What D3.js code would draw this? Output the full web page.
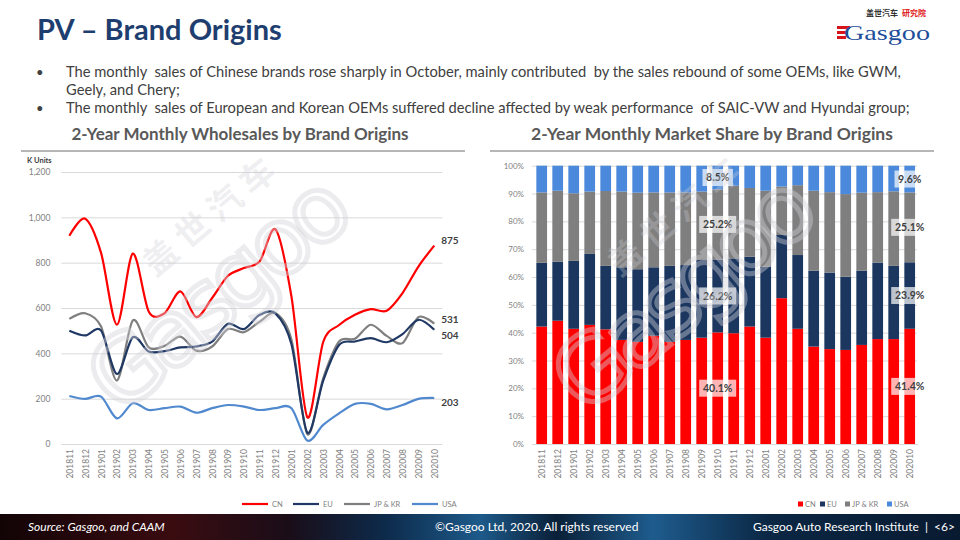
<!DOCTYPE html>
<html><head><meta charset="utf-8">
<script src="https://cdn.jsdelivr.net/npm/d3@7"></script>
<style>
html,body{margin:0;padding:0;background:#fff;}
svg{display:block;font-family:Lato,"Open Sans",sans-serif;}
</style></head>
<body><svg id="c" width="960" height="540"></svg>
<script>
// ---------- data ----------
const months = ["201811","201812","201901","201902","201903","201904","201905","201906","201907","201908","201909","201910","201911","201912","202001","202002","202003","202004","202005","202006","202007","202008","202009","202010"];
const seriesNames = ["CN","EU","JP & KR","USA"];
const cnSales  = [919,994,843,526,840,585,577,673,560,644,742,776,806,946,650,118,450,525,570,595,588,666,783,875];
const euSales  = [500,479,500,309,471,408,410,426,430,452,530,507,570,575,440,50,280,437,452,467,449,485,548,504];
const jpSales  = [552,577,518,280,545,426,433,474,412,430,507,493,540,577,460,44,290,452,464,526,477,445,560,531];
const usaSales = [212,199,209,113,180,150,158,165,138,158,172,165,150,158,158,15,84,135,177,177,153,172,199,203];
const salesTicks = [0,200,400,600,800,1000,1200];

const cnShare  = [42.2,44.3,41.4,42.8,41.2,37.4,36.7,38.9,36.7,37.4,38.2,40.1,39.8,42.2,38.2,52.4,41.4,35.0,34.1,33.8,35.6,37.7,37.7,41.4];
const euShare  = [22.9,21.2,24.4,25.5,22.8,26.1,26.1,24.6,27.3,26.9,27.9,26.2,26.9,25.1,25.5,22.7,26.5,27.3,27.5,26.3,26.7,27.5,26.3,23.9];
const jpShare  = [25.3,25.5,24.3,22.4,26.9,27.2,27.5,26.9,26.4,26.1,24.6,25.2,26.1,24.7,27.3,17.4,25.1,28.7,28.9,29.7,28.0,25.3,26.8,25.1];
const usaShare = [9.6,9.0,9.9,9.3,9.1,9.3,9.7,9.6,9.6,9.6,9.3,8.5,7.2,8.0,9.0,7.5,7.0,9.0,9.5,10.2,9.7,9.5,9.2,9.6];
const shareTicks = [0,10,20,30,40,50,60,70,80,90,100];
const labeledMonths = ["201910","202010"];

const bullets = [
  ["The monthly  sales of Chinese brands rose sharply in October, mainly contributed  by the sales rebound of some OEMs, like GWM,","Geely, and Chery;"],
  ["The monthly  sales of European and Korean OEMs suffered decline affected by weak performance  of SAIC-VW and Hyundai group;"]
];

// ---------- styles ----------
const lineColors = {"CN":"#FF0000","EU":"#1F3864","JP & KR":"#7F7F7F","USA":"#5189CF"};
const barColors  = {"CN":"#FF0000","EU":"#1B365F","JP & KR":"#7F7F7F","USA":"#4A89DC"};
const axisGray = "#7F7F7F";

const svg = d3.select("#c");

// ---------- header ----------
svg.append("text").attr("x",37).attr("y",40).attr("font-size",29).attr("font-weight",700)
  .attr("fill","#1F3E70").text("PV – Brand Origins");

// logo
const logo = svg.append("g").attr("transform","translate(836,8)");
logo.append("text").attr("x",30).attr("y",8).attr("font-size",8).attr("font-weight",700)
  .attr("font-family","'Noto Sans CJK SC'").attr("fill","#333").text("盖世汽车");
logo.append("text").attr("x",66).attr("y",8).attr("font-size",8).attr("font-weight",700)
  .attr("font-family","'Noto Sans CJK SC'").attr("fill","#E02020").text("研究院");
[0,1,2].forEach(i=>logo.append("rect").attr("x",1).attr("y",18+i*5).attr("width",13-i*2).attr("height",3).attr("fill","#D7141A"));
logo.append("text").attr("x",8).attr("y",32).attr("font-size",21).attr("font-family","'Liberation Serif',serif")
  .attr("fill","#1F4E9A").attr("textLength",86).attr("lengthAdjust","spacingAndGlyphs").text("Gasgoo");

// bullets
let by = 77;
bullets.forEach(b=>{
  svg.append("text").attr("x",36).attr("y",by).attr("font-size",13).attr("fill","#404040").text("•");
  b.forEach((ln,k)=>{
    svg.append("text").attr("x",66).attr("y",by).attr("font-size",14.7).attr("fill","#404040")
      .attr("xml:space","preserve").style("white-space","pre").text(ln);
    by += 18;
  });
});

// chart titles + top rules
svg.append("text").attr("x",240).attr("y",140).attr("text-anchor","middle").attr("font-size",17).attr("font-weight",700)
  .attr("fill","#595959").text("2-Year Monthly Wholesales by Brand Origins");
svg.append("text").attr("x",712).attr("y",140).attr("text-anchor","middle").attr("font-size",17.5).attr("font-weight",700)
  .attr("fill","#595959").text("2-Year Monthly Market Share by Brand Origins");
svg.append("line").attr("x1",21).attr("x2",465).attr("y1",151).attr("y2",151).attr("stroke","#6F6F6F").attr("stroke-width",1.2);
svg.append("line").attr("x1",490).attr("x2",934).attr("y1",151).attr("y2",151).attr("stroke","#6F6F6F").attr("stroke-width",1.2);

// ---------- left line chart ----------
const xL = d3.scalePoint().domain(months).range([61.4,442.2]).padding(0.5);
const yL = d3.scaleLinear().domain([0,1200]).range([444,172]);
const gL = svg.append("g");
gL.append("text").attr("x",27).attr("y",163).attr("font-size",7.5).attr("font-weight",700).attr("fill","#404040").text("K Units");
const axL = d3.axisLeft(yL).tickValues(salesTicks).tickSize(-381).tickFormat(d3.format(","));
const gax = gL.append("g").attr("transform","translate(61.4,0)").call(axL);
gax.select(".domain").remove();
gax.selectAll(".tick line").attr("stroke","#D9D9D9");
gax.selectAll(".tick text").attr("x",-11).attr("font-size",8.5).attr("fill",axisGray).attr("font-family","Lato");
const axLx = d3.axisBottom(xL).tickSize(0);
const gxx = gL.append("g").attr("transform","translate(0,444)").call(axLx);
gxx.select(".domain").remove();
gxx.selectAll(".tick text").attr("transform","rotate(-90)").attr("text-anchor","end")
  .attr("x",-5).attr("y",0).attr("dy","0.35em").attr("font-size",8.5).attr("fill",axisGray).attr("font-family","Lato");

const salesData = [cnSales,euSales,jpSales,usaSales];
const drawOrder = [3,2,1,0];
const lineGen = d3.line().x((d,i)=>xL(months[i])).y(d=>yL(d)).curve(d3.curveCardinal.tension(0.1));
drawOrder.forEach(s=>{
  gL.append("path").datum(salesData[s]).attr("d",lineGen).attr("fill","none")
    .attr("stroke",lineColors[seriesNames[s]]).attr("stroke-width",2.2).attr("stroke-linejoin","round");
});
const endOffsets = [-5,6,-4,5];
salesData.forEach((arr,s)=>{
  const v = arr[arr.length-1];
  gL.append("text").attr("x",xL(months[months.length-1])+7).attr("y",yL(v)+endOffsets[s]).attr("dy","0.35em")
    .attr("font-size",10).attr("font-weight",700).attr("fill","#404040").text(v);
});
// legend
const legLx = [242,293,344,412];
seriesNames.forEach((n,s)=>{
  gL.append("line").attr("x1",legLx[s]).attr("x2",legLx[s]+26).attr("y1",504).attr("y2",504)
    .attr("stroke",lineColors[n]).attr("stroke-width",2.2);
  gL.append("text").attr("x",legLx[s]+30).attr("y",504).attr("dy","0.35em").attr("font-size",7.5)
    .attr("fill",axisGray).text(n);
});

// ---------- right stacked bar chart ----------
const xR = d3.scaleBand().domain(months).range([533.7,917.7]).paddingInner(0.33).paddingOuter(0.165);
const yR = d3.scaleLinear().domain([0,100]).range([444,165.7]);
const gR = svg.append("g");
const axR = d3.axisLeft(yR).tickValues(shareTicks).tickSize(-385).tickFormat(d=>d+"%");
const gay = gR.append("g").attr("transform","translate(532,0)").call(axR);
gay.select(".domain").remove();
gay.selectAll(".tick line").attr("stroke","#D9D9D9");
gay.selectAll(".tick text").attr("x",-8).attr("font-size",8).attr("fill",axisGray).attr("font-family","Lato");
const gxr = gR.append("g").attr("transform","translate(0,444)").call(d3.axisBottom(xR).tickSize(0));
gxr.select(".domain").attr("stroke","#D9D9D9");
gxr.selectAll(".tick text").attr("transform","rotate(-90)").attr("text-anchor","end")
  .attr("x",-5).attr("y",0).attr("dy","0.35em").attr("font-size",8.5).attr("fill",axisGray).attr("font-family","Lato");

const table = months.map((m,i)=>({month:m,"CN":cnShare[i],"EU":euShare[i],"JP & KR":jpShare[i],"USA":usaShare[i]}));
const stack = d3.stack().keys(seriesNames)(table);
stack.forEach(layer=>{
  gR.append("g").attr("fill",barColors[layer.key]).selectAll("rect").data(layer).join("rect")
    .attr("x",d=>xR(d.data.month)).attr("width",xR.bandwidth())
    .attr("y",d=>yR(d[1])).attr("height",d=>yR(d[0])-yR(d[1]));
});

// watermarks
function watermark(cx,cy){
  const g = svg.append("g").attr("transform",`translate(${cx},${cy}) rotate(-40)`).attr("pointer-events","none");
  g.append("text").attr("x",45).attr("y",-62).attr("text-anchor","middle").attr("font-size",34).attr("font-weight",700)
    .attr("font-family","'Noto Sans CJK SC'").attr("fill","rgba(205,205,212,0.32)").attr("letter-spacing",8).text("盖世汽车");
  g.append("text").attr("x",0).attr("y",22).attr("text-anchor","middle").attr("font-size",92)
    .attr("font-family","'DejaVu Sans'").attr("fill","none").attr("stroke","rgba(210,210,216,0.42)").attr("stroke-width",5)
    .attr("textLength",310).text("Gasgoo");
}
watermark(225,300);
watermark(690,300);

// data labels
labeledMonths.forEach(m=>{
  const i = months.indexOf(m);
  stack.forEach(layer=>{
    const d = layer[i];
    const v = d[1]-d[0];
    const cx = xR(m)+xR.bandwidth()/2, cy = yR((d[0]+d[1])/2);
    const t = v.toFixed(1)+"%";
    const w = t.length*6.6+4;
    gR.append("rect").attr("x",cx-w/2).attr("y",cy-8.5).attr("width",w).attr("height",17)
      .attr("fill","rgba(255,255,255,0.7)");
    gR.append("text").attr("x",cx).attr("y",cy).attr("dy","0.36em").attr("text-anchor","middle")
      .attr("font-size",10.5).attr("font-weight",700).attr("fill","#404040").text(t);
  });
});

// legend
const legRx = [798,820,845,887];
seriesNames.forEach((n,s)=>{
  gR.append("rect").attr("x",legRx[s]).attr("y",501.5).attr("width",5).attr("height",5).attr("fill",barColors[n]);
  gR.append("text").attr("x",legRx[s]+7).attr("y",504).attr("dy","0.35em").attr("font-size",7.5).attr("fill",axisGray).text(n);
});

// ---------- footer ----------
const defs = svg.append("defs");
const grad = defs.append("linearGradient").attr("id","fg").attr("x1","0").attr("x2","1").attr("y1","0").attr("y2","0");
[["0%","#120406"],["18%","#3a0c10"],["30%","#1a0d18"],["40%","#0d2a4a"],["50%","#1d5a8a"],["58%","#0a2038"],["68%","#1e5c8e"],["80%","#0b2744"],["100%","#081a30"]]
  .forEach(([o,c])=>grad.append("stop").attr("offset",o).attr("stop-color",c));
svg.append("rect").attr("x",0).attr("y",514).attr("width",960).attr("height",26).attr("fill","url(#fg)");
svg.append("text").attr("x",28).attr("y",531).attr("font-size",12).attr("font-style","italic").attr("fill","#fff").text("Source: Gasgoo, and CAAM");
svg.append("text").attr("x",435).attr("y",531).attr("font-size",12).attr("fill","#fff").text("©Gasgoo Ltd,  2020. All rights reserved");
svg.append("text").attr("x",955).attr("y",531).attr("text-anchor","end").attr("font-size",12).attr("fill","#fff").attr("xml:space","preserve").style("white-space","pre").text("Gasgoo Auto Research Institute  |  <6>");
</script></body></html>
